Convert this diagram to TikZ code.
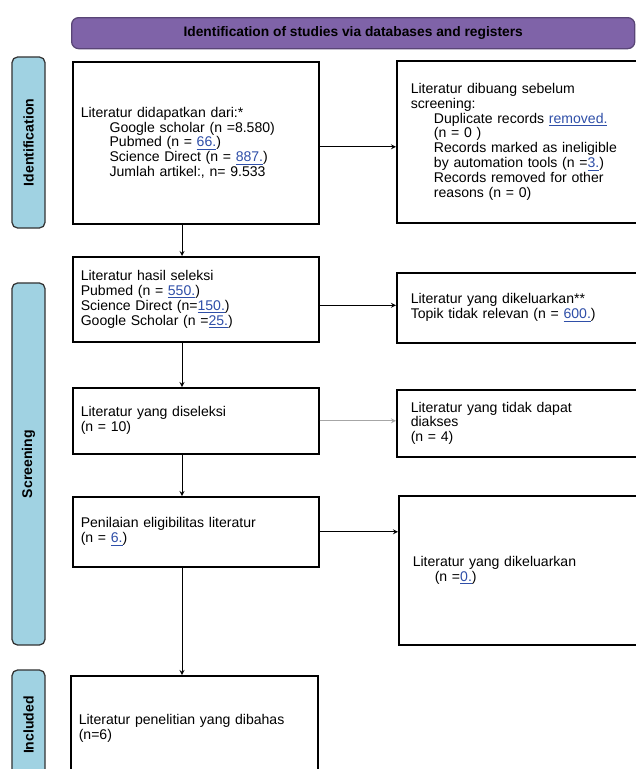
\documentclass[tikz,border=0pt]{standalone}
\usepackage{fontspec}
\setmainfont{Liberation Sans}
\usepackage{xcolor}
\usepackage{tikz}
\usetikzlibrary{arrows, arrows.meta, positioning, calc}

\definecolor{prismapurple}{HTML}{7F63A8}
\definecolor{phaseblue}{HTML}{A0D2E2}
\definecolor{fieldblue}{HTML}{2F4FA8}
\newcommand{\fld}[1]{\textcolor{fieldblue}{\underline{#1}}}

\begin{document}
\begin{tikzpicture}[
    x=0.025cm, y=-0.025cm,
    box/.style={draw, line width=1.1pt, fill=white, anchor=north west, align=left, inner xsep=0.2cm, inner ysep=0pt, font=\fontsize{10}{10.6}\selectfont},
    sidebox/.style={box, inner xsep=0.35cm},
    phase/.style={draw=black!80, line width=0.9pt, fill=phaseblue, rounded corners=4pt, rotate=90, minimum height=0.825cm, font=\bfseries\fontsize{10}{11}\selectfont},
    arrow/.style={->, >=stealth, line width=0.6pt}
]
    \useasboundingbox (0,0) rectangle (636,769);
    \clip (0,0) rectangle (636,769);

    % header and phases
    \node[draw=prismapurple!70!black, line width=0.9pt, fill=prismapurple, rounded corners=5pt, anchor=north west, minimum width=14.075cm, minimum height=0.775cm, font=\bfseries\fontsize{9.8}{11}\selectfont] (ttl) at (71,17) {Identification of studies via databases and registers};
    \node[phase, minimum width=4.275cm] (idlab) at (28.5,142.5) {Identification};
    \node[phase, minimum width=9.05cm] (scrlab) at (28.5,464) {Screening};
    \node[phase, minimum width=2.75cm] (inclab) at (28.5,725) {Included};

    % left column
    \node[box, text width=5.75cm, minimum height=4.05cm] (found) at (72,61) {Literatur didapatkan dari:*\\
        \hspace*{0.72cm}Google scholar (n =8.580)\\
        \hspace*{0.72cm}Pubmed (n = \fld{66.})\\
        \hspace*{0.72cm}Science Direct (n = \fld{887.})\\
        \hspace*{0.72cm}Jumlah artikel:, n= 9.533};
    \node[box, text width=5.75cm, minimum height=2.125cm] (screened) at (72,256) {Literatur hasil seleksi\\
        Pubmed (n = \fld{550.})\\
        Science Direct (n=\fld{150.})\\
        Google Scholar (n =\fld{25.})};
    \node[box, text width=5.75cm, minimum height=1.65cm] (sought) at (72,387) {Literatur yang diseleksi\\(n = 10)};
    \node[box, text width=5.75cm, minimum height=1.75cm] (assessed) at (72,496) {Penilaian eligibilitas literatur\\(n = \fld{6.})};
    \node[box, text width=5.78cm, minimum height=2.625cm] (included) at (70,675) {Literatur penelitian yang dibahas\\(n=6)};

    % right column
    \node[sidebox, text width=5.4cm, minimum height=4.05cm] (removed) at (396,60) {Literatur dibuang sebelum\\screening:\\
        \hspace*{0.58cm}Duplicate records \fld{removed.}\\
        \hspace*{0.58cm}(n = 0 )\\
        \hspace*{0.58cm}Records marked as ineligible\\
        \hspace*{0.58cm}by automation tools (n =\fld{3.})\\
        \hspace*{0.58cm}Records removed for other\\
        \hspace*{0.58cm}reasons (n = 0)};
    \node[sidebox, text width=5.4cm, minimum height=1.75cm] (excluded) at (396,272) {Literatur yang dikeluarkan**\\Topik tidak relevan (n = \fld{600.})};
    \node[sidebox, text width=5.4cm, minimum height=1.675cm] (notret) at (396,389) {Literatur yang tidak dapat\\diakses\\(n = 4)};
    \node[sidebox, text width=5.35cm, minimum height=3.725cm] (exclrep) at (398,495) {Literatur yang dikeluarkan\\\hspace*{0.55cm}(n =\fld{0.})};

    % connectors
    \coordinate (axis) at (182,0);
    \draw[arrow] (found.south -| axis) -- (screened.north -| axis);
    \draw[arrow] (screened.south -| axis) -- (sought.north -| axis);
    \draw[arrow] (sought.south -| axis) -- (assessed.north -| axis);
    \draw[arrow] (assessed.south -| axis) -- (included.north -| axis);
    \draw[arrow] ([yshift=-0.1cm]found.east) -- ([yshift=-0.1cm]found.east -| removed.west);
    \draw[arrow] ([yshift=-0.15cm]screened.east) -- ([yshift=-0.15cm]screened.east -| excluded.west);
    \draw[arrow, black!35] (sought.east) -- (sought.east -| notret.west);
    \draw[arrow] (assessed.east) -- (assessed.east -| exclrep.west);
\end{tikzpicture}
\end{document}
